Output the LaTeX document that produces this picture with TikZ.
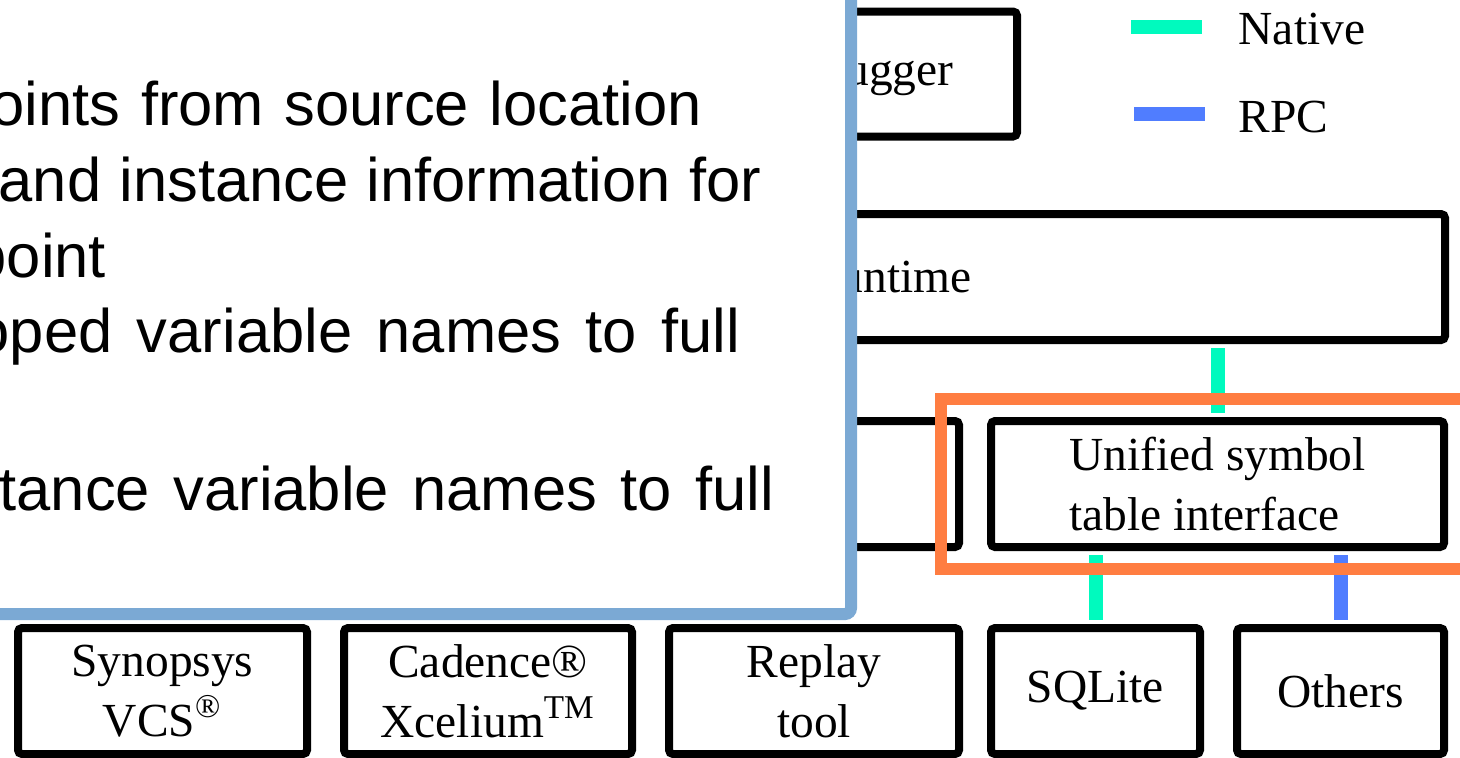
\documentclass[tikz,border=0pt]{standalone}
\usepackage{fontspec}
\setmainfont{Liberation Serif}
\newfontfamily\slidefont{Liberation Sans}
\usetikzlibrary{positioning}
\definecolor{nativegreen}{RGB}{0,250,190}
\definecolor{rpcblue}{RGB}{80,125,255}
\definecolor{calloutblue}{RGB}{123,169,212}
\definecolor{hlorange}{RGB}{255,125,65}
\begin{document}
\begin{tikzpicture}[x=0.1mm, y=-0.1mm,
  box/.style={draw, line width=0.8mm, rounded corners=0.4mm, inner sep=0pt, align=center,
    minimum height=12.6mm, font=\fontsize{13.5}{17}\selectfont},
  nativelink/.style={nativegreen, line width=1.4mm, shorten <=0.4mm, shorten >=0.4mm},
  rpclink/.style={rpcblue, line width=1.4mm, shorten <=0.4mm, shorten >=0.4mm},
  legend/.style={anchor=base west, inner sep=0pt, font=\fontsize{13.5}{17}\selectfont},
  slide/.style={anchor=base west, inner sep=0pt, font=\slidefont\fontsize{17.5}{21.8}\selectfont,
    execute at begin node={\spaceskip=#1\relax}},
  slide/.default=1.7mm]
  \useasboundingbox (0,0) rectangle (1460,757);
  \clip (0,0) rectangle (1460,757);

  % 1. boxes
  \node[box, minimum width=31.4mm, minimum height=12.5mm] (debugger) at (860,74) {Debugger};
  \node[box, minimum width=111mm] (runtime) at (890,277) {Runtime};
  \node[box, minimum width=94.1mm] (simif) at (488.5,484) {};
  \node[box, minimum width=45.3mm, align=left] (symtab) at (1217.5,484) {Unified symbol\\table interface};
  \node[box, minimum width=28.9mm] (vcs) at (162.5,691) {Synopsys\\VCS\textsuperscript{®}};
  \node[box, minimum width=28.8mm] (xcelium) at (488,691) {Cadence®\\Xcelium\textsuperscript{TM}};
  \node[box, minimum width=29mm] (replay) at (814,691) {Replay\\tool};
  \node[box, minimum width=20.9mm] (sqlite) at (1095.5,691) {SQLite};
  \node[box, minimum width=20.7mm] (others) at (1340.5,691) {Others};

  % 2. links
  \draw[nativelink] (symtab.north |- runtime.south) -- (symtab.north);
  \draw[nativelink] (sqlite.north |- symtab.south) -- (sqlite.north);
  \draw[rpclink] (others.north |- symtab.south) -- (others.north);
  \foreach \b in {vcs, xcelium, replay}
    \draw[nativelink] (\b.north |- simif.south) -- (\b.north);

  % 3. legend
  \draw[nativegreen, line width=1.4mm] (1131,27) -- (1202,27);
  \node[legend] (native) at (1238,44) {Native};
  \draw[rpcblue, line width=1.4mm] (1134,114) -- (1205,114);
  \node[legend] (rpc) at (1238,132) {RPC};

  % 4. highlight
  \draw[hlorange, line width=1.2mm] (941,399) rectangle (1490,569);

  % 5. callout
  \draw[calloutblue, fill=white, line width=1.2mm, rounded corners=0.6mm] (-40,-40) rectangle (851,614);
  \node[slide=2.05mm] (l1) at (-10,125) {oints from source location};
  \node[slide=1.82mm] (l2) at (-2,201) {and instance information for};
  \node[slide] (l3) at (-28,277) {point};
  \node[slide=2.45mm] (l4) at (-25,352) {oped variable names to full};
  \node[slide=2.35mm] (l5) at (-1,510) {tance variable names to full};
\end{tikzpicture}
\end{document}
